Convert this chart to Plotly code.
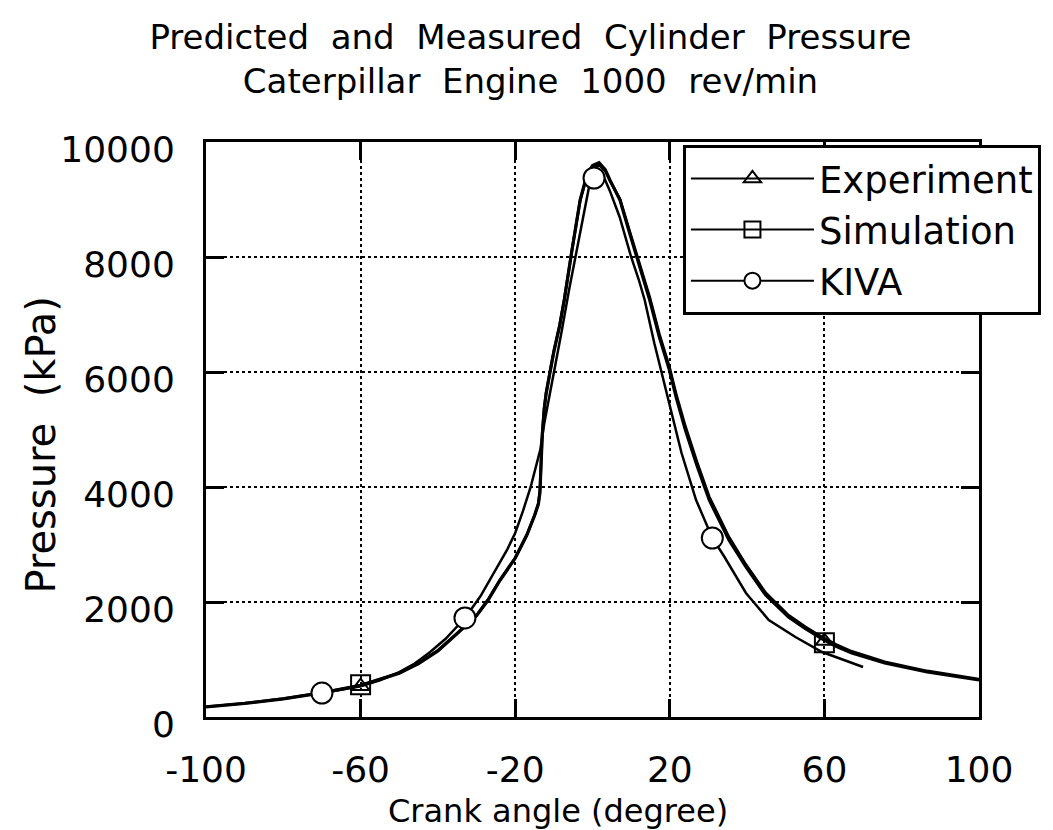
import plotly.graph_objects as go

# ---------------- data ----------------
crank_ticks = [-100, -60, -20, 20, 60, 100]
pressure_ticks = [0, 2000, 4000, 6000, 8000, 10000]

exp_angle = [-100, -90, -80, -70, -60, -50, -45, -40, -35, -30, -27, -24, -20, -17, -15, -14,
             -13.6, -13.3, -13, -12.5, -12, -11, -10, -8.5, -7.3, -5.3, -3.2, -1.5, 0, 1.7, 3.3,
             4.5, 7.1, 9.6, 12.2, 14.8, 17.3, 19.9, 21.7, 24, 27, 30.2, 35.3, 39.7, 44.8, 50.7,
             55, 59.4, 63, 67.1, 75.6, 86.6, 100]
exp_pressure = [174, 235, 315, 420, 545, 760, 930, 1150, 1450, 1760, 2035, 2370, 2760, 3160, 3500, 3700,
                3900, 4400, 4900, 5350, 5620, 5990, 6350, 6800, 7252, 8122, 8991, 9420, 9590, 9640, 9520,
                9339, 8991, 8417, 7826, 7252, 6609, 6035, 5548, 5000, 4380, 3774, 3078, 2609, 2122, 1739,
                1540, 1360, 1230, 1113, 939, 783, 643]

sim_angle = [-100, -90, -80, -70, -60, -50, -45, -40, -35, -30, -27, -24, -20, -17, -15, -14,
             -13.6, -13.3, -13, -12.5, -12, -11, -10, -8.5, -7.3, -5.3, -3.2, -1.5, 0, 1.7, 3.3,
             4.5, 7.1, 9.6, 12.2, 14.8, 17.3, 19.9, 21.7, 24, 27, 30.2, 35.3, 39.7, 44.8, 50.7,
             55, 59.4, 63, 67.1, 75.6, 86.6, 100]
sim_pressure = [180, 240, 320, 425, 555, 770, 940, 1160, 1460, 1770, 2045, 2380, 2770, 3170, 3510, 3720,
                3950, 4450, 4930, 5370, 5640, 6010, 6370, 6820, 7270, 8130, 8980, 9390, 9560, 9600, 9500,
                9330, 9010, 8450, 7870, 7300, 6660, 6090, 5600, 5060, 4440, 3830, 3130, 2650, 2160, 1770,
                1570, 1390, 1260, 1140, 960, 800, 660]

kiva_angle = [-70, -65, -60, -55, -50, -46, -42, -38, -33, -29, -25, -22, -20, -18, -16, -14.5,
              -13.5, -12.5, -11.2, -10, -8, -6, -4, -2.5, -0.9, 0.4, 1.8, 3, 4.5, 7, 10, 12, 13.5,
              16, 19.6, 23, 26.8, 31, 34, 39.7, 45.6, 52.5, 59.4, 65, 70]
kiva_pressure = [417, 470, 535, 640, 780, 930, 1130, 1360, 1722, 2100, 2560, 2920, 3200, 3580, 4000, 4400,
                 4650, 5100, 5548, 5950, 6700, 7450, 8150, 8700, 9217, 9374, 9430, 9380, 9150, 8700, 8000,
                 7600, 7252, 6500, 5548, 4600, 3774, 3113, 2800, 2157, 1687, 1391, 1130, 990, 870]

exp_marker_angle = [-60, 60]
exp_marker_pressure = [535, 1320]
sim_marker_angle = [-60, 60]
sim_marker_pressure = [560, 1290]
kiva_marker_angle = [-70, -33, 0.4, 31]
kiva_marker_pressure = [417, 1722, 9374, 3113]

series_names = ["Experiment", "Simulation", "KIVA"]

# ---------------- figure ----------------
FONT = "DejaVu Sans"
NB = "\u00a0"
fig = go.Figure()

line_specs = [
    (exp_angle, exp_pressure, exp_marker_angle, exp_marker_pressure, 3.2,
     dict(symbol="triangle-up-open", size=15, color="black", line=dict(width=2, color="black"))),
    (sim_angle, sim_pressure, sim_marker_angle, sim_marker_pressure, 2.8,
     dict(symbol="square-open", size=19, color="black", line=dict(width=2, color="black"))),
    (kiva_angle, kiva_pressure, kiva_marker_angle, kiva_marker_pressure, 2.5,
     dict(symbol="circle", size=21, color="white", line=dict(width=2, color="black"))),
]

for name, (xa, ya, mx, my, lw, mk) in zip(series_names, line_specs):
    fig.add_trace(go.Scatter(x=xa, y=ya, mode="lines", line=dict(color="black", width=lw),
                             legendgroup=name, showlegend=False, hoverinfo="skip"))
for name, (xa, ya, mx, my, lw, mk) in zip(series_names, line_specs):
    fig.add_trace(go.Scatter(x=mx, y=my, mode="markers", marker=mk,
                             legendgroup=name, showlegend=False))
for name, (xa, ya, mx, my, lw, mk) in zip(series_names, line_specs):
    fig.add_trace(go.Scatter(x=[None], y=[None], mode="lines+markers", name=name,
                             line=dict(color="black", width=2), marker=mk,
                             legendgroup=name, showlegend=True))

axis_common = dict(
    showline=True, linecolor="black", linewidth=3, mirror="ticks",
    ticks="inside", ticklen=18, tickwidth=3, tickcolor="black",
    showgrid=True, gridcolor="black", gridwidth=2, griddash="dot",
    zeroline=False,
    tickfont=dict(family=FONT, size=36, color="black"),
)

fig.update_xaxes(range=[-100, 100], tickvals=crank_ticks, ticktext=[str(v) for v in crank_ticks],
                 ticklabelstandoff=19, **axis_common)
fig.update_yaxes(range=[0, 10000], tickvals=pressure_ticks, ticktext=[str(v) for v in pressure_ticks],
                 ticklabelstandoff=21, ticklabelshift=7, **axis_common)

# axis titles (placed to match the original's off-centre positions)
fig.add_annotation(text="Crank angle (degree)", xref="paper", yref="paper",
                   x=0.456, y=-0.163, xanchor="center", yanchor="middle", showarrow=False,
                   font=dict(family=FONT, size=32, color="black"))
fig.add_annotation(text="Pressure" + NB * 2 + "(kPa)", xref="paper", yref="paper",
                   x=-0.214, y=0.473, xanchor="center", yanchor="middle", showarrow=False,
                   textangle=-90, font=dict(family=FONT, size=40, color="black"))

fig.update_layout(
    width=1045, height=822,
    margin=dict(l=198, r=71, t=134, b=113),
    paper_bgcolor="white", plot_bgcolor="white",
    title=dict(text=f"Predicted{NB} and{NB} Measured{NB} Cylinder{NB} Pressure<br>"
                    f"Caterpillar{NB} Engine{NB} 1000{NB} rev/min",
               font=dict(family=FONT, size=34, color="black"),
               xref="container", x=0.5, xanchor="center",
               yref="container", y=0.950, yanchor="middle"),
    legend=dict(x=0.617, y=0.995, xanchor="left", yanchor="top",
                bgcolor="white", bordercolor="black", borderwidth=3,
                font=dict(family=FONT, size=37, color="black"),
                itemwidth=123, tracegroupgap=0),
    showlegend=True,
)

fig.write_html("out.html")
